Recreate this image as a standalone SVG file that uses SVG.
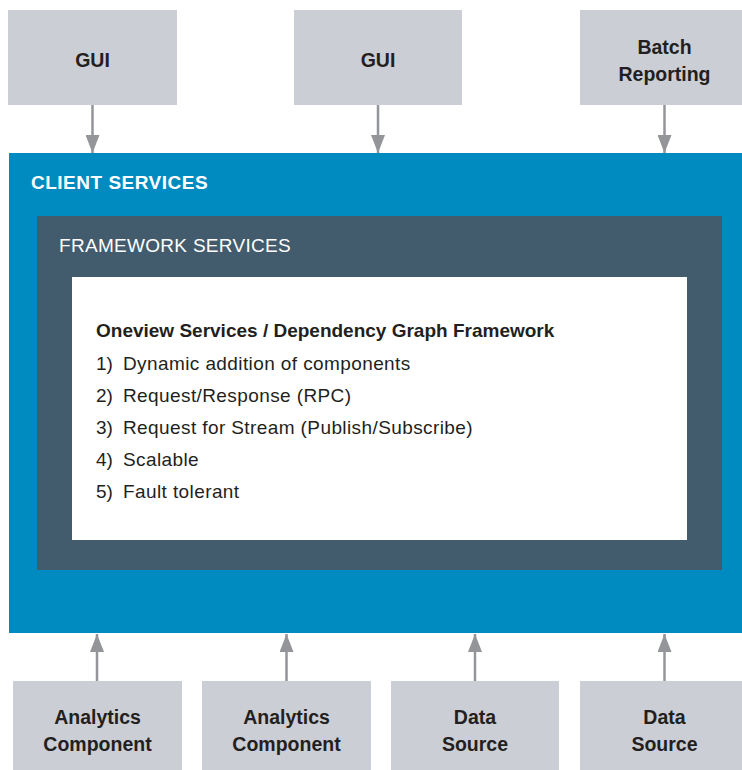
<svg xmlns="http://www.w3.org/2000/svg" width="742" height="770" viewBox="0 0 742 770">
<style>
.box{fill:#cbced5}
.lbl{font-family:"Liberation Sans",Arial,sans-serif;font-weight:bold;font-size:19.5px;fill:#231f20;text-anchor:middle}
.hdr{font-family:"Liberation Sans",Arial,sans-serif;font-size:19px;fill:#ffffff;letter-spacing:0.3px}
.body{font-family:"Liberation Sans",Arial,sans-serif;font-size:19px;fill:#231f20}
.item{letter-spacing:0.4px}
.conn line{stroke:#939598;stroke-width:2.5;marker-end:url(#ah)}
</style>
<defs>
<marker id="ah" markerUnits="userSpaceOnUse" markerWidth="18" markerHeight="14" refX="18" refY="7" orient="auto" viewBox="0 0 18 14">
<path d="M0,0 L18,7 L0,14 Z" fill="#939598"/>
</marker>
</defs>
<rect width="742" height="770" fill="#ffffff"/>

<g id="client-services">
<rect x="9" y="153" width="740" height="480" fill="#008bc0"/>
<text class="hdr" x="31" y="189" font-weight="bold" style="letter-spacing:0.5px">CLIENT SERVICES</text>
</g>
<g id="framework-services">
<rect x="37" y="216" width="685" height="354" fill="#425b6d"/>
<text class="hdr" x="59" y="252">FRAMEWORK SERVICES</text>
</g>
<g id="oneview">
<rect x="72" y="277" width="615" height="263" fill="#ffffff"/>
<text class="body" x="96" y="337" font-weight="bold">Oneview Services / Dependency Graph Framework</text>
<text class="body" y="370"><tspan x="96">1)</tspan><tspan class="item" x="123">Dynamic addition of components</tspan></text>
<text class="body" y="402"><tspan x="96">2)</tspan><tspan class="item" x="123">Request/Response (RPC)</tspan></text>
<text class="body" y="434"><tspan x="96">3)</tspan><tspan class="item" x="123">Request for Stream (Publish/Subscribe)</tspan></text>
<text class="body" y="466"><tspan x="96">4)</tspan><tspan class="item" x="123">Scalable</tspan></text>
<text class="body" y="498"><tspan x="96">5)</tspan><tspan class="item" x="123">Fault tolerant</tspan></text>
</g>

<g id="gui1">
<rect class="box" x="8" y="10" width="169" height="95"/>
<text class="lbl" x="92.5" y="67">GUI</text>
</g>
<g id="gui2">
<rect class="box" x="294" y="10" width="168" height="95"/>
<text class="lbl" x="378" y="67">GUI</text>
</g>
<g id="batch-reporting">
<rect class="box" x="580" y="10" width="169" height="95"/>
<text class="lbl" x="664.5" y="54">Batch</text>
<text class="lbl" x="664.5" y="81">Reporting</text>
</g>

<g id="analytics1">
<rect class="box" x="13" y="681" width="169" height="95"/>
<text class="lbl" x="97.5" y="724">Analytics</text>
<text class="lbl" x="97.5" y="751">Component</text>
</g>
<g id="analytics2">
<rect class="box" x="202" y="681" width="169" height="95"/>
<text class="lbl" x="286.5" y="724">Analytics</text>
<text class="lbl" x="286.5" y="751">Component</text>
</g>
<g id="datasource1">
<rect class="box" x="391" y="681" width="168" height="95"/>
<text class="lbl" x="475" y="724">Data</text>
<text class="lbl" x="475" y="751">Source</text>
</g>
<g id="datasource2">
<rect class="box" x="580" y="681" width="169" height="95"/>
<text class="lbl" x="664.5" y="724">Data</text>
<text class="lbl" x="664.5" y="751">Source</text>
</g>

<g id="connectors" class="conn">
<line x1="92.5" y1="105" x2="92.5" y2="153"/>
<line x1="378" y1="105" x2="378" y2="153"/>
<line x1="664.5" y1="105" x2="664.5" y2="153"/>
<line x1="97" y1="681" x2="97" y2="634"/>
<line x1="286.5" y1="681" x2="286.5" y2="634"/>
<line x1="475" y1="681" x2="475" y2="634"/>
<line x1="664.5" y1="681" x2="664.5" y2="634"/>
</g>
</svg>
